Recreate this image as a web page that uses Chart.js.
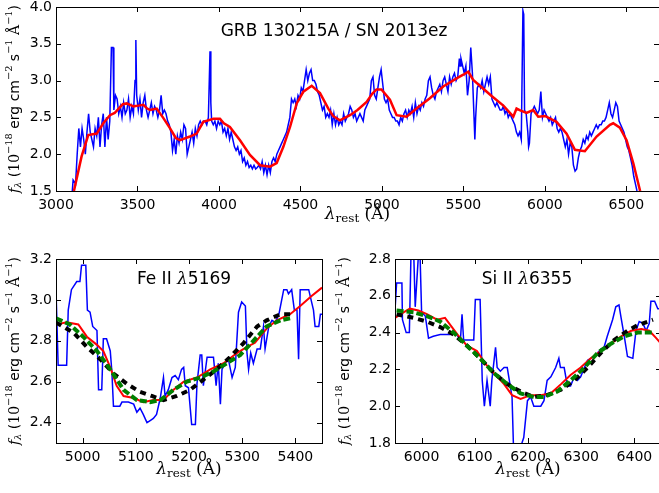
<!DOCTYPE html>
<html>
<head>
<meta charset="utf-8">
<title>GRB 130215A / SN 2013ez</title>
<script src="https://cdn.jsdelivr.net/npm/chart.js"></script>
<style>
  body { margin: 0; width: 659px; height: 493px; overflow: hidden; background: #fff; position: relative; }
  canvas { position: absolute; }
</style>
</head>
<body>
<canvas id="topChart" style="left:0px;top:0px" width="662" height="228"></canvas>
<canvas id="feChart" style="left:0px;top:240px" width="330" height="253"></canvas>
<canvas id="siChart" style="left:330px;top:240px" width="334" height="253"></canvas>

<script>
// ---- data: [wavelength (A), flux (1e-18 erg/cm2/s/A)] ----
var topBlue = [
  [3100,1.5],[3105,1.65],[3120,1.6],[3130,2.0],[3140,2.35],[3150,2.1],[3160,2.35],[3170,2.2],[3180,2.0],[3190,2.3],
  [3200,2.55],[3210,2.3],[3220,2.2],[3230,2.1],[3240,2.35],[3250,2.25],[3260,2.5],[3270,2.1],[3280,2.4],[3290,2.55],
  [3300,2.1],[3310,2.5],[3320,2.2],[3330,2.45],[3340,3.45],[3350,3.45],[3355,2.6],[3365,2.8],[3375,2.75],[3385,2.55],
  [3395,2.65],[3405,2.5],[3415,2.7],[3425,2.55],[3435,2.6],[3445,2.75],[3455,2.5],[3465,2.65],[3475,2.55],[3485,3.0],
  [3490,3.55],[3495,2.8],[3505,2.6],[3515,2.75],[3525,2.5],[3535,2.7],[3545,2.8],[3555,2.6],[3565,2.5],[3575,2.6],
  [3585,2.7],[3595,2.55],[3605,2.65],[3615,2.6],[3625,2.5],[3635,2.6],[3645,2.8],[3655,2.55],[3665,2.6],[3675,2.55],
  [3685,2.45],[3695,2.4],[3705,2.3],[3715,2.05],[3725,2.2],[3735,2.0],[3745,2.25],[3755,2.15],[3765,2.3],[3775,2.2],
  [3785,2.4],[3795,2.35],[3805,2.0],[3815,2.1],[3825,2.2],[3835,2.3],[3845,2.15],[3855,2.35],[3865,2.25],[3875,2.4],
  [3885,2.45],[3895,2.4],[3905,2.45],[3915,2.45],[3925,2.4],[3935,2.5],[3945,3.4],[3950,2.7],[3955,2.45],[3965,2.4],
  [3975,2.45],[3985,2.35],[3995,2.45],[4005,2.4],[4015,2.45],[4025,2.3],[4035,2.35],[4045,2.25],[4055,2.35],[4065,2.2],
  [4075,2.3],[4085,2.2],[4095,2.1],[4105,2.05],[4115,2.1],[4125,2.0],[4135,2.05],[4145,1.9],[4155,1.95],[4165,1.85],
  [4175,1.9],[4185,1.82],[4195,1.85],[4205,1.8],[4215,1.85],[4225,1.8],[4235,1.82],[4245,1.85],[4255,1.8],[4265,1.9],
  [4275,1.75],[4285,1.85],[4295,1.72],[4305,1.85],[4315,1.75],[4325,1.9],[4335,1.95],[4345,1.9],[4355,2.0],[4365,2.05],
  [4375,2.1],[4385,2.15],[4395,2.2],[4405,2.25],[4415,2.3],[4425,2.4],[4435,2.5],[4445,2.75],[4455,2.7],[4465,2.75],
  [4475,2.65],[4485,2.8],[4495,2.75],[4505,2.9],[4515,2.85],[4525,3.0],[4535,3.15],[4545,3.0],[4555,3.1],[4565,3.15],
  [4575,3.0],[4585,3.0],[4595,2.95],[4605,2.85],[4615,2.8],[4625,2.7],[4635,2.6],[4645,2.65],[4655,2.5],[4665,2.55],
  [4675,2.5],[4685,2.6],[4695,2.4],[4705,2.55],[4715,2.4],[4725,2.5],[4735,2.4],[4745,2.45],[4755,2.4],[4765,2.55],
  [4775,2.45],[4785,2.5],[4795,2.55],[4805,2.65],[4815,2.6],[4825,2.5],[4835,2.55],[4845,2.45],[4855,2.5],[4865,2.55],
  [4875,2.5],[4885,2.45],[4895,2.6],[4905,2.65],[4915,2.7],[4925,2.75],[4935,3.0],[4945,3.05],[4955,2.8],[4965,2.75],
  [4975,2.9],[4985,3.05],[4995,3.15],[5005,2.95],[5015,2.75],[5025,2.7],[5035,2.75],[5045,2.6],[5055,2.55],[5065,2.5],
  [5075,2.5],[5085,2.45],[5095,2.45],[5105,2.4],[5115,2.5],[5125,2.45],[5135,2.55],[5145,2.6],[5155,2.5],[5165,2.6],
  [5175,2.55],[5185,2.65],[5195,2.5],[5205,2.7],[5215,2.55],[5225,2.65],[5235,2.6],[5245,2.7],[5255,2.65],[5265,2.75],
  [5275,2.8],[5285,3.0],[5295,3.05],[5305,2.9],[5315,2.8],[5325,2.75],[5335,2.85],[5345,2.9],[5355,2.95],[5365,2.85],
  [5375,3.0],[5385,3.05],[5395,2.95],[5405,2.85],[5415,3.05],[5425,2.95],[5435,3.05],[5445,3.1],[5455,3.0],[5465,3.05],
  [5475,3.3],[5480,3.2],[5485,3.3],[5495,3.2],[5505,3.1],[5515,3.2],[5525,2.8],[5535,3.0],[5545,3.45],[5555,3.1],
  [5565,2.5],[5570,2.2],[5575,2.5],[5585,2.9],[5595,2.95],[5605,2.9],[5615,3.0],[5625,2.85],[5635,2.95],[5645,3.05],
  [5655,2.95],[5665,3.05],[5675,2.75],[5685,2.7],[5695,2.65],[5705,2.7],[5715,2.65],[5725,2.6],[5735,2.6],[5745,2.65],
  [5755,2.55],[5765,2.6],[5775,2.5],[5785,2.55],[5795,2.5],[5805,2.45],[5815,2.4],[5825,2.3],[5835,2.25],[5845,2.3],
  [5855,2.2],[5865,3.95],[5870,3.9],[5875,2.6],[5885,2.55],[5895,2.3],[5900,2.1],[5905,2.15],[5915,2.55],[5925,2.6],
  [5935,2.65],[5945,2.6],[5955,2.55],[5965,2.6],[5975,2.85],[5985,2.5],[5995,2.6],[6005,2.55],[6015,2.5],[6025,2.45],
  [6035,2.5],[6045,2.4],[6055,2.45],[6065,2.5],[6075,2.35],[6085,2.3],[6095,2.35],[6105,2.3],[6115,2.2],[6125,2.1],
  [6135,2.2],[6145,2.0],[6155,2.15],[6165,2.1],[6175,1.85],[6185,1.77],[6195,1.8],[6205,1.95],[6215,2.05],[6225,2.1],
  [6235,2.2],[6245,2.15],[6255,2.25],[6265,2.2],[6275,2.3],[6285,2.25],[6295,2.3],[6305,2.35],[6315,2.4],[6325,2.35],
  [6335,2.4],[6345,2.4],[6355,2.45],[6365,2.45],[6375,2.5],[6385,2.6],[6395,2.7],[6405,2.55],[6415,2.5],[6425,2.6],
  [6435,2.7],[6445,2.65],[6455,2.45],[6465,2.4],[6475,2.35],[6485,2.3],[6495,2.2],[6505,2.1],[6515,2.05],[6525,1.95],
  [6535,1.85],[6545,1.7],[6555,1.6],[6565,1.5]
];
var topRed = [
  [3110,1.5],[3157,1.97],[3198,2.26],[3250,2.28],[3290,2.42],[3331,2.53],[3360,2.56],[3393,2.64],[3410,2.68],[3434,2.69],
  [3475,2.65],[3505,2.66],[3536,2.67],[3560,2.62],[3577,2.6],[3618,2.62],[3659,2.49],[3700,2.35],[3735,2.22],[3761,2.19],
  [3822,2.24],[3863,2.28],[3904,2.44],[3966,2.48],[4006,2.48],[4030,2.42],[4067,2.37],[4129,2.19],[4190,1.99],[4252,1.85],
  [4313,1.83],[4354,1.88],[4395,2.1],[4436,2.37],[4477,2.69],[4518,2.85],[4569,2.93],[4620,2.83],[4671,2.62],[4700,2.52],
  [4742,2.46],[4804,2.53],[4850,2.6],[4906,2.71],[4940,2.82],[4967,2.88],[4997,2.88],[5049,2.74],[5090,2.53],[5151,2.51],
  [5212,2.62],[5294,2.76],[5376,2.92],[5458,3.03],[5499,3.08],[5530,3.12],[5560,3.01],[5622,2.89],[5673,2.79],[5745,2.66],
  [5806,2.51],[5826,2.62],[5845,2.6],[5887,2.56],[5928,2.6],[5959,2.51],[6000,2.52],[6071,2.44],[6133,2.28],[6184,2.06],
  [6245,2.04],[6317,2.24],[6399,2.40],[6419,2.42],[6460,2.36],[6501,2.19],[6542,1.88],[6583,1.51],[6600,1.38]
];

var feBlue = [
  [4950,3.05],[4954,2.68],[4970,2.68],[4973,2.95],[4979,3.05],[4989,3.09],[4995,3.09],[4998,3.17],[5006,3.17],[5009,2.95],
  [5014,2.94],[5019,2.87],[5027,2.85],[5030,2.56],[5036,2.56],[5039,2.81],[5045,2.81],[5052,2.75],[5055,2.65],[5058,2.48],
  [5070,2.48],[5074,2.5],[5086,2.5],[5096,2.49],[5102,2.45],[5108,2.47],[5114,2.44],[5121,2.40],[5127,2.41],[5133,2.42],
  [5139,2.44],[5146,2.52],[5152,2.62],[5155,2.53],[5161,2.56],[5168,2.62],[5174,2.63],[5180,2.61],[5186,2.66],[5190,2.67],
  [5193,2.58],[5199,2.57],[5205,2.39],[5212,2.39],[5215,2.59],[5221,2.73],[5224,2.73],[5227,2.58],[5234,2.72],[5246,2.72],
  [5251,2.58],[5255,2.69],[5259,2.49],[5262,2.66],[5268,2.69],[5274,2.71],[5281,2.62],[5287,2.67],[5293,2.94],[5299,2.99],
  [5306,2.97],[5309,2.74],[5312,2.66],[5316,2.74],[5321,2.69],[5328,2.76],[5334,2.76],[5340,2.87],[5343,2.76],[5350,2.87],
  [5356,2.90],[5362,2.89],[5369,2.93],[5378,3.05],[5384,3.05],[5387,3.03],[5393,3.05],[5398,2.95],[5403,2.95],[5406,2.71],
  [5409,3.05],[5425,3.05],[5434,2.95],[5437,2.87],[5444,2.87],[5447,2.93],[5450,2.93]
];
var feRed = [
  [4950,2.88],[4970,2.89],[4992,2.88],[5008,2.82],[5027,2.78],[5039,2.75],[5052,2.67],[5064,2.58],[5077,2.53],[5096,2.52],
  [5114,2.50],[5133,2.51],[5152,2.51],[5171,2.56],[5190,2.60],[5215,2.62],[5240,2.66],[5265,2.69],[5290,2.74],[5309,2.77],
  [5324,2.79],[5346,2.86],[5365,2.90],[5390,2.93],[5409,2.97],[5431,3.02],[5450,3.06]
];
var feBlack = [
  [4950,2.89],[4983,2.84],[5008,2.77],[5033,2.71],[5058,2.64],[5083,2.59],[5108,2.55],[5130,2.53],[5152,2.51],[5177,2.53],
  [5202,2.56],[5227,2.61],[5252,2.66],[5277,2.72],[5303,2.79],[5328,2.87],[5346,2.90],[5372,2.93],[5397,2.93]
];
var feGreen = [
  [4950,2.91],[4976,2.88],[5001,2.82],[5027,2.75],[5052,2.66],[5077,2.56],[5102,2.51],[5127,2.50],[5146,2.51],[5171,2.56],
  [5196,2.60],[5221,2.62],[5246,2.65],[5271,2.69],[5296,2.73],[5321,2.80],[5346,2.87],[5372,2.90],[5390,2.91]
];

var siBlue = [
  [5950,2.52],[5953,2.67],[5963,2.67],[5964,2.47],[5971,2.40],[5977,2.40],[5980,2.82],[5985,2.85],[5988,2.54],[5994,2.82],
  [5997,2.83],[6000,2.51],[6007,2.49],[6013,2.37],[6022,2.38],[6035,2.39],[6054,2.39],[6063,2.40],[6073,2.36],[6076,2.50],
  [6079,2.36],[6098,2.36],[6101,2.58],[6110,2.58],[6114,2.14],[6118,2.0],[6123,2.14],[6129,2.0],[6132,2.14],[6139,2.32],
  [6142,2.21],[6148,2.19],[6155,2.21],[6161,2.21],[6170,2.05],[6173,1.75],[6183,1.75],[6192,1.83],[6199,2.03],[6205,2.05],
  [6211,2.0],[6224,2.0],[6230,2.03],[6236,2.14],[6243,2.16],[6252,2.21],[6258,2.26],[6261,2.21],[6268,2.21],[6274,2.11],
  [6280,2.11],[6287,2.16],[6293,2.14],[6299,2.16],[6306,2.21],[6312,2.25],[6318,2.26],[6324,2.27],[6331,2.29],[6337,2.31],
  [6343,2.32],[6349,2.38],[6359,2.47],[6365,2.54],[6371,2.55],[6375,2.48],[6381,2.38],[6387,2.27],[6397,2.26],[6403,2.41],
  [6409,2.46],[6416,2.45],[6422,2.41],[6428,2.45],[6431,2.57],[6438,2.57],[6444,2.53],[6450,2.53]
];
var siRed = [
  [5950,2.48],[5966,2.51],[5978,2.53],[5994,2.52],[6010,2.50],[6029,2.47],[6044,2.48],[6057,2.43],[6070,2.38],[6085,2.33],
  [6104,2.30],[6120,2.23],[6136,2.18],[6155,2.12],[6170,2.06],[6186,2.04],[6205,2.06],[6224,2.06],[6243,2.07],[6262,2.12],
  [6280,2.17],[6299,2.21],[6318,2.26],[6337,2.30],[6356,2.34],[6375,2.38],[6394,2.41],[6413,2.42],[6428,2.41],[6441,2.37],
  [6450,2.34]
];
var siBlack = [
  [5953,2.50],[5985,2.48],[6010,2.46],[6035,2.43],[6060,2.39],[6085,2.33],[6110,2.26],[6136,2.18],[6161,2.12],[6186,2.08],
  [6211,2.05],[6236,2.06],[6262,2.09],[6287,2.14],[6312,2.21],[6337,2.29],[6362,2.36],[6387,2.41],[6406,2.44],[6435,2.47]
];
var siGreen = [
  [5953,2.52],[5985,2.51],[6010,2.49],[6035,2.46],[6060,2.40],[6085,2.33],[6110,2.26],[6136,2.18],[6161,2.12],[6186,2.07],
  [6211,2.05],[6230,2.05],[6255,2.08],[6280,2.14],[6306,2.21],[6331,2.29],[6356,2.34],[6381,2.38],[6406,2.40],[6435,2.40]
];

// ---- ticks ----
var topXTicks = [3000, 3500, 4000, 4500, 5000, 5500, 6000, 6500];
var topYTicks = [1.5, 2.0, 2.5, 3.0, 3.5, 4.0];
var feXTicks = [5000, 5100, 5200, 5300, 5400];
var feYTicks = [2.4, 2.6, 2.8, 3.0, 3.2];
var siXTicks = [6000, 6100, 6200, 6300, 6400];
var siYTicks = [1.8, 2.0, 2.2, 2.4, 2.6, 2.8];

var SANS = "'DejaVu Sans'";
var SERIF = "'DejaVu Serif'";

var yTitle = [['f','i','n'],['λ','i','sub'],[' (','s','n'],['10','m','n'],['−18','m','sup'],[' erg cm','s','n'],
  ['−2','m','sup'],[' s','s','n'],['−1','m','sup'],[' ','s','n'],['Å','m','n'],['−1','m','sup'],[')','s','n']];
var xTitle = [['λ','i','n'],['rest','m','sub'],[' (','m','n'],['Å','m','n'],[')','m','n']];

// draw text made of pieces [text, font(s/m/i), pos(n/sup/sub)], centred on x,y
function drawRich(ctx, parts, x, y, size, rot) {
  var items = parts.map(function (p) {
    var s = p[2] === 'n' ? size : size * 0.7;
    var dy = p[2] === 'sup' ? -size * 0.42 : (p[2] === 'sub' ? size * 0.22 : 0);
    var font = (p[1] === 'i' ? 'italic ' : '') + s + 'px ' + (p[1] === 's' ? SANS : SERIF);
    ctx.font = font;
    return { t: p[0], font: font, dy: dy, w: ctx.measureText(p[0]).width };
  });
  var total = items.reduce(function (a, it) { return a + it.w; }, 0);
  ctx.save();
  ctx.translate(x, y);
  ctx.rotate(rot || 0);
  ctx.fillStyle = '#000';
  ctx.textBaseline = 'middle';
  ctx.textAlign = 'left';
  var cx = -total / 2;
  items.forEach(function (it) {
    ctx.font = it.font;
    ctx.fillText(it.t, cx, it.dy);
    cx += it.w;
  });
  ctx.restore();
}

// frame, inward ticks on all sides, axis titles and the panel label
var framePlugin = {
  id: 'frame',
  afterDatasetsDraw: function (chart) {
    var ctx = chart.ctx, a = chart.chartArea;
    var xs = chart.scales.x, ys = chart.scales.y;
    var o = chart.options.plugins.frame;
    ctx.save();
    ctx.strokeStyle = '#000';
    ctx.lineWidth = 1;
    ctx.strokeRect(Math.round(a.left) + 0.5, Math.round(a.top) + 0.5, Math.round(a.right - a.left), Math.round(a.bottom - a.top));
    ctx.beginPath();
    o.xTicks.forEach(function (v) {
      var px = Math.round(xs.getPixelForValue(v)) + 0.5;
      ctx.moveTo(px, a.bottom); ctx.lineTo(px, a.bottom - 5);
      ctx.moveTo(px, a.top); ctx.lineTo(px, a.top + 5);
    });
    o.yTicks.forEach(function (v) {
      var py = Math.round(ys.getPixelForValue(v)) + 0.5;
      ctx.moveTo(a.left, py); ctx.lineTo(a.left + 5, py);
      ctx.moveTo(a.right, py); ctx.lineTo(a.right - 5, py);
    });
    ctx.stroke();
    ctx.restore();

    drawRich(ctx, yTitle, o.yTitleX, (a.top + a.bottom) / 2, 14, -Math.PI / 2);
    drawRich(ctx, xTitle, (a.left + a.right) / 2, a.bottom + o.xTitleDy, 17, 0);
    drawRich(ctx, o.label, o.labelX, a.top + o.labelDy, 17, 0);
  }
};

function lineSet(pairs, color, width, order, dash) {
  return {
    data: pairs.map(function (p) { return { x: p[0], y: p[1] }; }),
    borderColor: color,
    borderWidth: width,
    borderDash: dash || [],
    pointRadius: 0,
    tension: 0,
    fill: false,
    clip: 0,
    order: order
  };
}

function makeChart(id, datasets, cfg) {
  return new Chart(document.getElementById(id), {
    type: 'line',
    data: { datasets: datasets },
    options: {
      responsive: false,
      animation: false,
      events: [],
      layout: { padding: { left: 0, top: cfg.padTop, right: cfg.padRight, bottom: 0 } },
      plugins: {
        legend: { display: false },
        tooltip: { enabled: false },
        frame: cfg.frame
      },
      scales: {
        x: {
          type: 'linear', min: cfg.xMin, max: cfg.xMax,
          grid: { display: false, drawTicks: false },
          border: { display: false },
          afterBuildTicks: function (s) { s.ticks = cfg.frame.xTicks.map(function (v) { return { value: v }; }); },
          afterFit: function (s) { s.height = cfg.xHeight; s.paddingLeft = 0; s.paddingRight = 0; },
          ticks: {
            autoSkip: false, maxRotation: 0, padding: 6, color: '#000',
            font: { family: SANS, size: 14 },
            callback: function (v) { return String(v); }
          }
        },
        y: {
          type: 'linear', min: cfg.yMin, max: cfg.yMax,
          grid: { display: false, drawTicks: false },
          border: { display: false },
          afterBuildTicks: function (s) { s.ticks = cfg.frame.yTicks.map(function (v) { return { value: v }; }); },
          afterFit: function (s) { s.width = cfg.yWidth; s.paddingTop = 0; s.paddingBottom = 0; },
          ticks: {
            autoSkip: false, padding: 4, color: '#000',
            font: { family: SANS, size: 14 },
            callback: function (v) { return v.toFixed(1); }
          }
        }
      }
    },
    plugins: [framePlugin]
  });
}

makeChart('topChart', [
  lineSet(topBlue, '#0000ff', 1.5, 2),
  lineSet(topRed, '#ff0000', 2.5, 1)
], {
  xMin: 3000, xMax: 6700, yMin: 1.5, yMax: 4.0,
  padTop: 7, padRight: 3, xHeight: 37, yWidth: 56,
  frame: {
    xTicks: topXTicks, yTicks: topYTicks, yTitleX: 15, xTitleDy: 24,
    label: [['GRB 130215A / SN 2013ez', 's', 'n']], labelX: 334, labelDy: 25
  }
});

makeChart('feChart', [
  lineSet(feBlue, '#0000ff', 1.5, 4),
  lineSet(feRed, '#ff0000', 2, 3),
  lineSet(feBlack, '#000000', 4, 2, [6, 5]),
  lineSet(feGreen, '#008000', 4, 1, [7, 3])
], {
  xMin: 4950, xMax: 5450, yMin: 2.3, yMax: 3.2,
  padTop: 19, padRight: 8, xHeight: 50, yWidth: 56,
  frame: {
    xTicks: feXTicks, yTicks: feYTicks, yTitleX: 15, xTitleDy: 27,
    label: [['Fe II ', 's', 'n'], ['λ', 'i', 'n'], ['5169', 's', 'n']], labelX: 184, labelDy: 21
  }
});

makeChart('siChart', [
  lineSet(siBlue, '#0000ff', 1.5, 4),
  lineSet(siRed, '#ff0000', 2, 3),
  lineSet(siBlack, '#000000', 4, 2, [6, 5]),
  lineSet(siGreen, '#008000', 4, 1, [7, 3])
], {
  xMin: 5950, xMax: 6450, yMin: 1.8, yMax: 2.8,
  padTop: 19, padRight: 3, xHeight: 50, yWidth: 65,
  frame: {
    xTicks: siXTicks, yTicks: siYTicks, yTitleX: 15, xTitleDy: 27,
    label: [['Si II ', 's', 'n'], ['λ', 'i', 'n'], ['6355', 's', 'n']], labelX: 197, labelDy: 21
  }
});
</script>
</body>
</html>
